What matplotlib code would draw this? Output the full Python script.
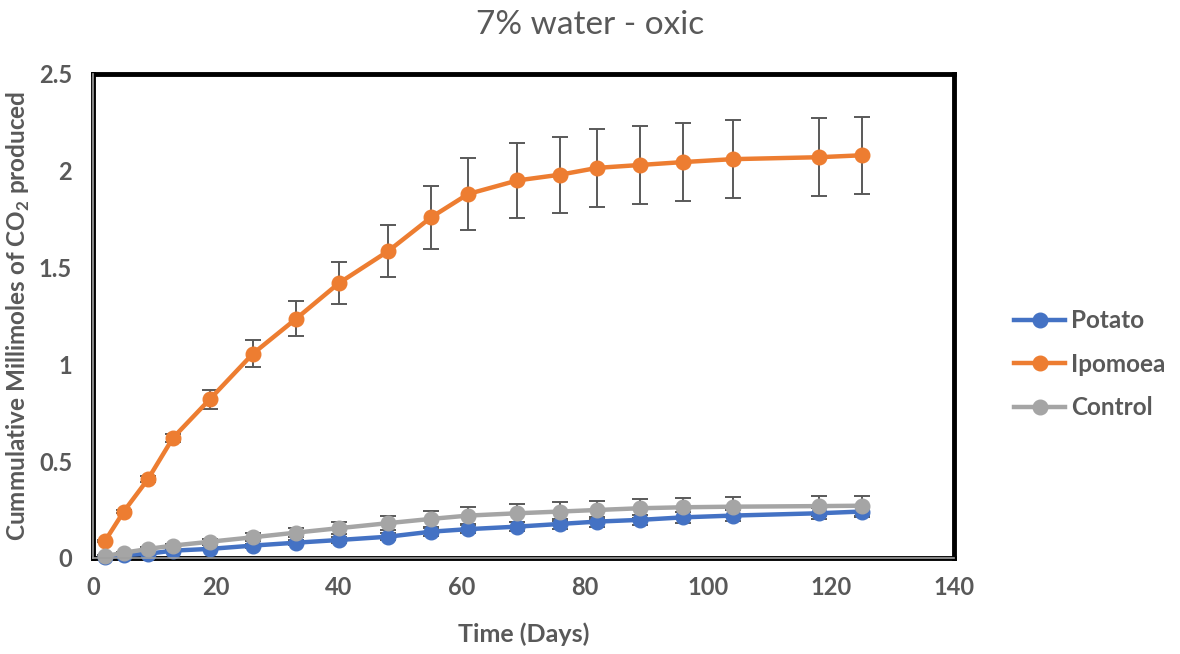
import numpy as np
import matplotlib
matplotlib.use("Agg")
import matplotlib.pyplot as plt
from matplotlib.ticker import FuncFormatter

plt.rcParams['font.family'] = ['Lato', 'DejaVu Sans']
plt.rcParams['mathtext.fontset'] = 'custom'
plt.rcParams['mathtext.rm'] = 'Lato:bold'
plt.rcParams['mathtext.bf'] = 'Lato:bold'

# data
days = [2, 5, 9, 13, 19, 26, 33, 40, 48, 55, 61, 69, 76, 82, 89, 96, 104, 118, 125]

potato = [0.005, 0.015, 0.022, 0.038, 0.047, 0.064, 0.079, 0.093, 0.11, 0.136,
          0.149, 0.162, 0.176, 0.188, 0.197, 0.21, 0.219, 0.231, 0.24]
potato_err = [0.002, 0.003, 0.004, 0.005, 0.007, 0.01, 0.012, 0.015, 0.018, 0.02,
              0.022, 0.024, 0.025, 0.026, 0.027, 0.028, 0.028, 0.029, 0.03]

ipomoea = [0.09, 0.24, 0.41, 0.62, 0.82, 1.055, 1.235, 1.42, 1.585, 1.76,
           1.88, 1.95, 1.98, 2.015, 2.03, 2.045, 2.06, 2.07, 2.08]
ipomoea_err = [0.005, 0.01, 0.015, 0.02, 0.05, 0.07, 0.09, 0.11, 0.135, 0.163,
               0.184, 0.194, 0.197, 0.2, 0.2, 0.2, 0.2, 0.2, 0.2]

control = [0.01, 0.027, 0.047, 0.064, 0.084, 0.107, 0.131, 0.154, 0.18, 0.202,
           0.219, 0.231, 0.24, 0.248, 0.257, 0.262, 0.265, 0.268, 0.27]
control_err = [0.005, 0.005, 0.008, 0.01, 0.015, 0.02, 0.025, 0.03, 0.035, 0.04,
               0.043, 0.047, 0.047, 0.048, 0.048, 0.05, 0.05, 0.05, 0.052]

series = [
    ("Potato", potato, potato_err, "#4472C4"),
    ("Ipomoea", ipomoea, ipomoea_err, "#ED7D31"),
    ("Control", control, control_err, "#A5A5A5"),
]

text_color = "#595959"

fig = plt.figure(figsize=(11.8, 6.54), dpi=100)
ax = fig.add_axes([0.0788, 0.1468, 0.7297, 0.7401])

for name, vals, errs, color in series:
    ax.errorbar(days, vals, yerr=errs, fmt='none', ecolor="#595959",
                elinewidth=1.4, capsize=5.5, capthick=1.4, zorder=2, clip_on=False)
    ax.plot(days, vals, color=color, lw=3.2, marker='o', markersize=10.5,
            label=name, zorder=3, clip_on=False)

ax.set_xlim(0, 140)
ax.set_ylim(0, 2.5)
ax.set_xticks(np.arange(0, 141, 20))
ax.set_yticks(np.arange(0, 2.51, 0.5))
ax.yaxis.set_major_formatter(FuncFormatter(lambda v, p: f"{v:g}"))
ax.tick_params(length=0, labelsize=17, labelcolor=text_color)
ax.tick_params(axis='y', pad=15)
ax.tick_params(axis='x', pad=13)
for lab in ax.get_xticklabels() + ax.get_yticklabels():
    lab.set_fontweight('bold')

for sp in ax.spines.values():
    sp.set_color('black')
    sp.set_linewidth(3.5)
ax.axhline(0, color='#A0A0A0', lw=1.2, zorder=4, clip_on=False)
ax.axvline(0, color='#A0A0A0', lw=1.2, zorder=4, clip_on=False)

ax.set_xlabel("Time (Days)", fontsize=18, fontweight='bold', color=text_color, labelpad=17)
ax.set_ylabel(r"Cummulative Millimoles of CO$_\mathbf{2}$ produced", fontsize=17.5,
              fontweight='bold', color=text_color)
ax.yaxis.set_label_coords(-0.071, 0.5)
fig.suptitle("7% water - oxic", fontsize=24, color=text_color, y=0.985)

fig.legend(loc='center left', bbox_to_anchor=(0.841, 0.443), frameon=False,
           labelcolor=text_color, handlelength=2.1, handletextpad=0.25,
           labelspacing=0.85, prop={'weight': 'bold', 'size': 17.5})

fig.savefig("out.png", dpi=100)
